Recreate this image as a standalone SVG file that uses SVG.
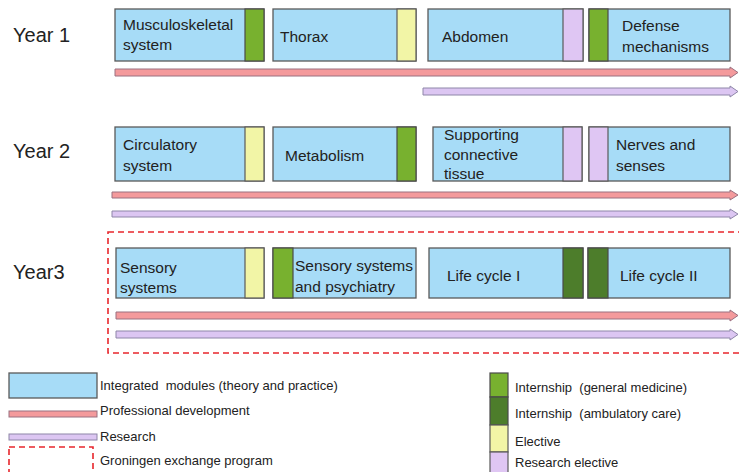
<svg xmlns="http://www.w3.org/2000/svg" width="739" height="472" viewBox="0 0 739 472">
<style>
text{font-family:"Liberation Sans",Arial,sans-serif;fill:#222}
.yr{font-size:20px}
.bx{font-size:15.5px}
.lg{font-size:13px}
.m{fill:#a7dcf7;stroke:#5a5a5a;stroke-width:1.3}
.g{fill:#78b12f;stroke:#4a4a4a;stroke-width:1.2}
.dg{fill:#4d7d2b;stroke:#4a4a4a;stroke-width:1.2}
.y{fill:#f2f5a6;stroke:#5a5a5a;stroke-width:1.2}
.p{fill:#dfc6f3;stroke:#5a5a5a;stroke-width:1.2}
.pa{fill:#f49a9c;stroke:#9a7080;stroke-width:1}
.ra{fill:#dcc6f2;stroke:#8e86a8;stroke-width:1}
.dash{fill:none;stroke:#e8262c;stroke-width:1.6;stroke-dasharray:6,4}
</style>

<g id="year-labels">
<text class="yr" x="13" y="42">Year 1</text>
<text class="yr" x="13" y="158">Year 2</text>
<text class="yr" x="13" y="279">Year3</text>
</g>

<g id="groningen">
<rect class="dash" x="108" y="232" width="640" height="121"/>
</g>

<g id="y1-musculoskeletal">
<rect class="m" x="115" y="9" width="149" height="52"/>
<rect class="g" x="245" y="9" width="19" height="52"/>
<text class="bx" x="123" y="30">Musculoskeletal</text>
<text class="bx" x="123" y="50">system</text>
</g>
<g id="y1-thorax">
<rect class="m" x="273" y="9" width="143" height="52"/>
<rect class="y" x="397" y="9" width="19" height="52"/>
<text class="bx" x="280" y="42">Thorax</text>
</g>
<g id="y1-abdomen">
<rect class="m" x="428" y="9" width="155" height="52"/>
<rect class="p" x="563" y="9" width="20" height="52"/>
<text class="bx" x="442" y="42">Abdomen</text>
</g>
<g id="y1-defense">
<rect class="m" x="589" y="9" width="141" height="52"/>
<rect class="g" x="589" y="9" width="19" height="52"/>
<text class="bx" x="622" y="31">Defense</text>
<text class="bx" x="622" y="52">mechanisms</text>
</g>

<g id="y2-circulatory">
<rect class="m" x="115" y="127" width="149" height="54"/>
<rect class="y" x="245" y="127" width="19" height="54"/>
<text class="bx" x="123" y="150">Circulatory</text>
<text class="bx" x="123" y="171">system</text>
</g>
<g id="y2-metabolism">
<rect class="m" x="273" y="127" width="143" height="54"/>
<rect class="g" x="397" y="127" width="19" height="54"/>
<text class="bx" x="285" y="161">Metabolism</text>
</g>
<g id="y2-supporting">
<rect class="m" x="433" y="127" width="149" height="54"/>
<rect class="p" x="563" y="127" width="19" height="54"/>
<text class="bx" x="444" y="140">Supporting</text>
<text class="bx" x="444" y="160">connective</text>
<text class="bx" x="444" y="179">tissue</text>
</g>
<g id="y2-nerves">
<rect class="m" x="589" y="127" width="141" height="54"/>
<rect class="p" x="589" y="127" width="19" height="54"/>
<text class="bx" x="616" y="150">Nerves and</text>
<text class="bx" x="616" y="171">senses</text>
</g>

<g id="y3-sensory">
<rect class="m" x="116" y="248" width="148" height="50"/>
<rect class="y" x="245" y="248" width="19" height="50"/>
<text class="bx" x="120" y="273">Sensory</text>
<text class="bx" x="120" y="293">systems</text>
</g>
<g id="y3-sensory-psychiatry">
<rect class="m" x="273" y="248" width="143" height="50"/>
<rect class="g" x="273" y="248" width="20" height="50"/>
<text class="bx" x="295" y="271">Sensory systems</text>
<text class="bx" x="295" y="292">and psychiatry</text>
</g>
<g id="y3-lifecycle1">
<rect class="m" x="429" y="248" width="154" height="50"/>
<rect class="dg" x="563" y="248" width="20" height="50"/>
<text class="bx" x="447" y="281">Life cycle I</text>
</g>
<g id="y3-lifecycle2">
<rect class="m" x="588" y="248" width="142" height="50"/>
<rect class="dg" x="588" y="248" width="20" height="50"/>
<text class="bx" x="620" y="281">Life cycle II</text>
</g>

<g id="connectors">
<polygon class="pa" points="115,69 730,69 730,67 738,72.5 730,78 730,76 115,76"/>
<polygon class="ra" points="423,88 730,88 730,86 738,91.5 730,97 730,95 423,95"/>
<polygon class="pa" points="112,192 730,192 730,190 738,195 730,200 730,198 112,198"/>
<polygon class="ra" points="112,211 730,211 730,209 738,214 730,219 730,217 112,217"/>
<polygon class="pa" points="116,312 730,312 730,310 738,315.5 730,321 730,319 116,319"/>
<polygon class="ra" points="116,331 730,331 730,329 738,334.5 730,340 730,338 116,338"/>
</g>

<g id="legend">
<rect class="m" x="9" y="373" width="88" height="25"/>
<text class="lg" x="100" y="390" xml:space="preserve">Integrated  modules (theory and practice)</text>
<rect class="pa" x="9" y="411" width="88" height="6"/>
<text class="lg" x="100" y="415">Professional development</text>
<rect class="ra" x="9" y="434" width="88" height="6"/>
<text class="lg" x="100" y="441">Research</text>
<rect class="dash" x="9" y="447" width="84" height="40"/>
<text class="lg" x="100" y="465">Groningen exchange program</text>
<rect class="g" x="490" y="373" width="18" height="24"/>
<rect class="dg" x="490" y="397" width="18" height="28"/>
<rect class="y" x="490" y="425" width="18" height="27"/>
<rect class="p" x="490" y="452" width="18" height="30"/>
<text class="lg" x="515" y="392" xml:space="preserve">Internship  (general medicine)</text>
<text class="lg" x="515" y="418" xml:space="preserve">Internship  (ambulatory care)</text>
<text class="lg" x="515" y="446">Elective</text>
<text class="lg" x="515" y="467">Research elective</text>
</g>
</svg>
